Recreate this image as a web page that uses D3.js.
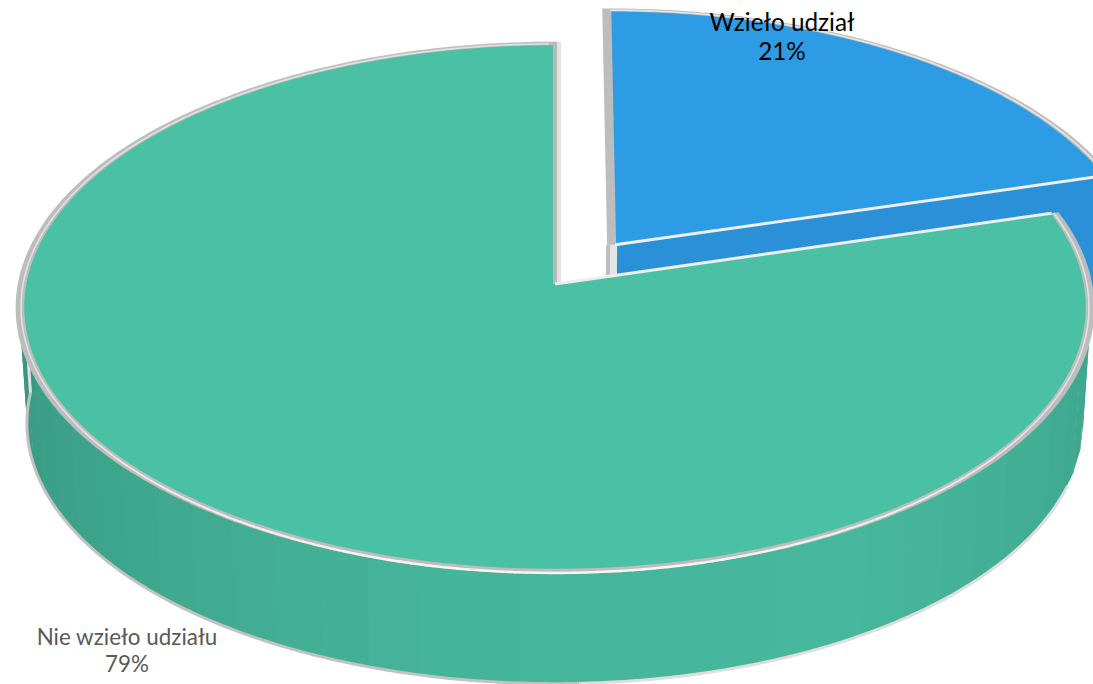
<html>
<head>
<meta charset="utf-8">
<style>
  html, body { margin: 0; padding: 0; background: #fff; overflow: hidden; }
  text { font-family: "Lato", "Noto Sans", sans-serif; }
</style>
</head>
<body>
<svg id="chart"></svg>
<script src="https://d3js.org/d3.v7.min.js"></script>
<script>
// data
var categories = ['Wzieło udział', 'Nie wzieło udziału']
var shares = [20.51, 79.49]
var sliceColors = ['#2e9ce4', '#4ac0a5']
var labelColors = ['#000000', '#595959']

var width = 1093, height = 684
var svg = d3.select('#chart').attr('width', width).attr('height', height)

// tilted disc, near side is bigger
var cx = 555, tilt = 0.0888, rx = 534, ry = 262.4
var topPlane = { y: 284, f: 1 }
var lowPlane = { y: 400, f: 0.985 }
var explode = [0.19, 0]

function project(u, v, plane) {
  var w = 1 - tilt * v
  return [cx + rx * plane.f * u / w, plane.y + ry * plane.f * v / w]
}

var pie = d3.pie().sort(null).value(function(d) { return d })
var arcs = pie(shares)
var line = d3.line()

// point on a slice at clock angle a (0 = up)
function onSlice(i, a, r, plane) {
  var mid = (arcs[i].startAngle + arcs[i].endAngle) / 2
  var du = explode[i] * Math.sin(mid), dv = -explode[i] * Math.cos(mid)
  return project(du + r * Math.sin(a), dv - r * Math.cos(a), plane)
}
function angles(a0, a1) {
  var n = Math.ceil((a1 - a0) / 0.01)
  return d3.range(n + 1).map(function(k) { return a0 + (a1 - a0) * k / n })
}
function sliceTop(i, r) {
  var pts = angles(arcs[i].startAngle, arcs[i].endAngle).map(function(a) { return onSlice(i, a, r, topPlane) })
  pts.unshift(onSlice(i, 0, 0, topPlane))
  return line(pts) + 'Z'
}
function rimLine(i, a0, a1, r, plane, color, w) {
  svg.append('path')
    .attr('d', line(angles(a0, a1).map(function(a) { return onSlice(i, a, r, plane) })))
    .attr('fill', 'none').attr('stroke', color).attr('stroke-width', w)
}
function wallQuad(i, a0, a1) {
  return line([onSlice(i, a0, 1, topPlane), onSlice(i, a1, 1, topPlane),
               onSlice(i, a1, 1, lowPlane), onSlice(i, a0, 1, lowPlane)]) + 'Z'
}
// strip beside a straight cut, dx is pixels sideways from the cut
function band(p, q, dx0, dx1, color) {
  svg.append('path')
    .attr('d', line([[p[0] + dx0, p[1]], [p[0] + dx1, p[1]], [q[0] + dx1, q[1]], [q[0] + dx0, q[1]]]) + 'Z')
    .attr('fill', color)
}

// wall shade, darker towards the left
var greenShade = d3.scaleLinear()
  .domain([1.5, 2.6, 3.3, 4.7])
  .range(['#3ca38b', '#47b89d', '#45b59a', '#389680'])

// blue slice, side first
var blueEnd = arcs[0].endAngle
var blueApex = onSlice(0, 0, 0, topPlane), blueLow = onSlice(0, 0, 0, lowPlane)
svg.append('path')
  .attr('d', line([blueApex, onSlice(0, blueEnd, 1, topPlane),
                   onSlice(0, blueEnd, 1, lowPlane), blueLow]) + 'Z')
  .attr('fill', '#2a90d8')
band(blueApex, blueLow, -9, 2, '#e4e4e4')
band(blueApex, blueLow, -9, -5, '#bdbdbd')
svg.append('path').attr('d', sliceTop(0, 1.006)).attr('fill', '#bdbdbd')
svg.append('path').attr('d', sliceTop(0, 0.992)).attr('fill', sliceColors[0])
band(blueApex, onSlice(0, 0, 1.006, topPlane), -8, 1, '#bdbdbd')
rimLine(0, 0, blueEnd, 0.998, topPlane, '#e6e6e6', 1.5)
svg.append('path')
  .attr('d', line([blueApex, onSlice(0, blueEnd, 1, topPlane)]))
  .attr('stroke', '#efefef').attr('stroke-width', 3)

// green slice side, cut in facets
var wallAngles = d3.range(1.4, 4.9, 0.09)
svg.selectAll('.wall').data(wallAngles).enter().append('path')
  .attr('class', 'wall')
  .attr('d', function(a) { return wallQuad(1, a, a + 0.095) })
  .attr('fill', function(a) { return greenShade(a) })
rimLine(1, 1.9, 3.1, 1, lowPlane, '#dedede', 3)
rimLine(1, 3.1, 4.74, 1, lowPlane, '#c2c2c2', 3)
var leftTop = onSlice(1, 4.74, 1, topPlane), leftLow = onSlice(1, 4.74, 1, lowPlane)
svg.append('path').attr('d', line([leftTop, leftLow]))
  .attr('stroke', '#e0e0e0').attr('stroke-width', 3)

// green top
var greenStart = arcs[1].startAngle
svg.append('path').attr('d', sliceTop(1, 1.006)).attr('fill', '#bdbdbd')
svg.append('path').attr('d', sliceTop(1, 0.99)).attr('fill', sliceColors[1])

// bright line on the rim, slides to the outside along the front
var frontWeight = d3.scaleLinear().domain([2.1, 2.9, 3.4, 4.2]).range([0, 1, 1, 0]).clamp(true)
var rimColor = d3.interpolateRgb('#e2e2e2', '#f6f6f6')
svg.selectAll('.rim').data(d3.range(greenStart, 2 * Math.PI - 0.02, 0.02)).enter().append('path')
  .attr('class', 'rim')
  .attr('d', function(a) {
    var r = 0.996 + 0.007 * frontWeight(a)
    return line([onSlice(1, a, r, topPlane), onSlice(1, a + 0.022, r, topPlane)])
  })
  .attr('fill', 'none')
  .attr('stroke', function(a) { return rimColor(frontWeight(a)) })
  .attr('stroke-width', function(a) { return 1.5 + frontWeight(a) })

var greenApex = onSlice(1, 0, 0, topPlane), greenTop = onSlice(1, 0, 1.006, topPlane)
band(greenApex, greenTop, 2, 6, '#e2e2e2')
band(greenApex, greenTop, -2, 2, '#b8b8b8')
svg.append('path')
  .attr('d', line([greenApex, onSlice(1, greenStart, 0.992, topPlane)]))
  .attr('stroke', '#efefef').attr('stroke-width', 3)

// labels
var fmt = d3.format('.0f')
var labelX = [782, 127], labelY = [31, 645], labelGap = [29, 27], labelSize = [24.3, 22.4]
categories.forEach(function(c, i) {
  var t = svg.append('text').attr('text-anchor', 'middle').attr('fill', labelColors[i])
    .attr('font-size', labelSize[i])
  t.append('tspan').attr('x', labelX[i]).attr('y', labelY[i]).text(c)
  t.append('tspan').attr('x', labelX[i]).attr('y', labelY[i] + labelGap[i]).text(fmt(shares[i]) + '%')
})
</script>
</body>
</html>
